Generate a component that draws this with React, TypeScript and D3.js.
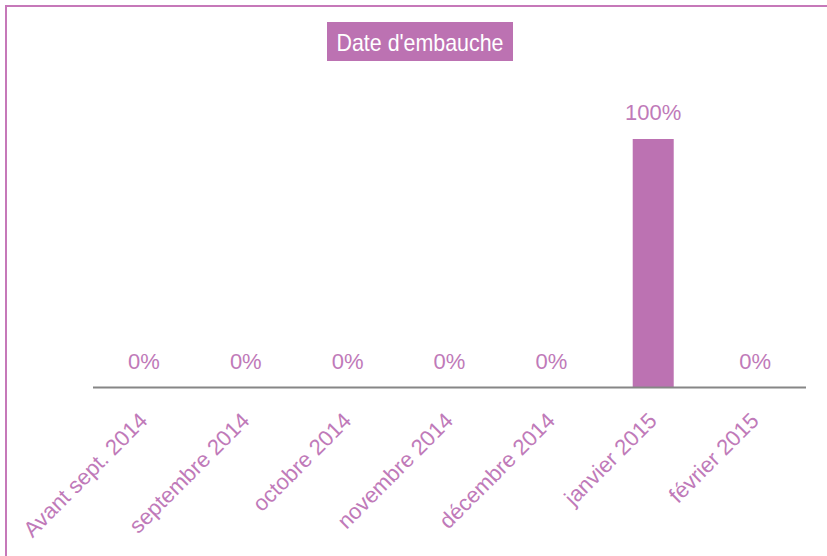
import React from "react";
import * as d3 from "d3";

const categories = [
  "Avant sept. 2014",
  "septembre 2014",
  "octobre 2014",
  "novembre 2014",
  "décembre 2014",
  "janvier  2015",
  "février 2015",
];
const values = [0, 0, 0, 0, 0, 100, 0];
const title = "Date d'embauche";

const W = 827;
const H = 556;
const PURPLE = "#bc72b2";
const TEXT = "#c07ab9";
const FONT = "'Liberation Sans', Arial, sans-serif";

export default function App() {
  const band = d3.scaleBand<string>().domain(categories).range([93, 806]);
  const y = d3.scaleLinear().domain([0, 100]).range([388, 139]);

  return (
    <svg width={W} height={H} style={{ position: "fixed", left: 0, top: 0, background: "#fff" }}>
      <rect x={0} y={0} width={W} height={H} fill="#fff" />
      <line x1={5} y1={6} x2={W} y2={6} stroke="#c678b9" strokeWidth={2} />
      <line x1={6} y1={5} x2={6} y2={H} stroke="#c678b9" strokeWidth={2} />

      <rect x={327} y={22} width={186} height={39} fill={PURPLE} />
      <text x={420} y={51} textAnchor="middle" fill="#fff" fontFamily={FONT} fontSize={24} textLength={167} lengthAdjust="spacingAndGlyphs">
        {title}
      </text>

      {categories.map((c, i) => {
        const cx = (band(c) as number) + band.bandwidth() / 2;
        const bw = 41;
        return (
          <g key={c}>
            {values[i] > 0 && (
              <rect x={cx - bw / 2} y={y(values[i])} width={bw} height={y(0) - y(values[i])} fill={PURPLE} />
            )}
            <text x={cx} y={y(values[i]) - 19.5} textAnchor="middle" fill={TEXT} fontFamily={FONT} fontSize={22}>
              {values[i] + "%"}
            </text>
            <text
              transform={`translate(${cx + 5},${422}) rotate(-45)`}
              textAnchor="end"
              fill={TEXT}
              fontFamily={FONT}
              fontSize={22}
            >
              {c}
            </text>
          </g>
        );
      })}

      <line x1={93} y1={387.5} x2={806} y2={387.5} stroke="#868686" strokeWidth={2} />
    </svg>
  );
}
